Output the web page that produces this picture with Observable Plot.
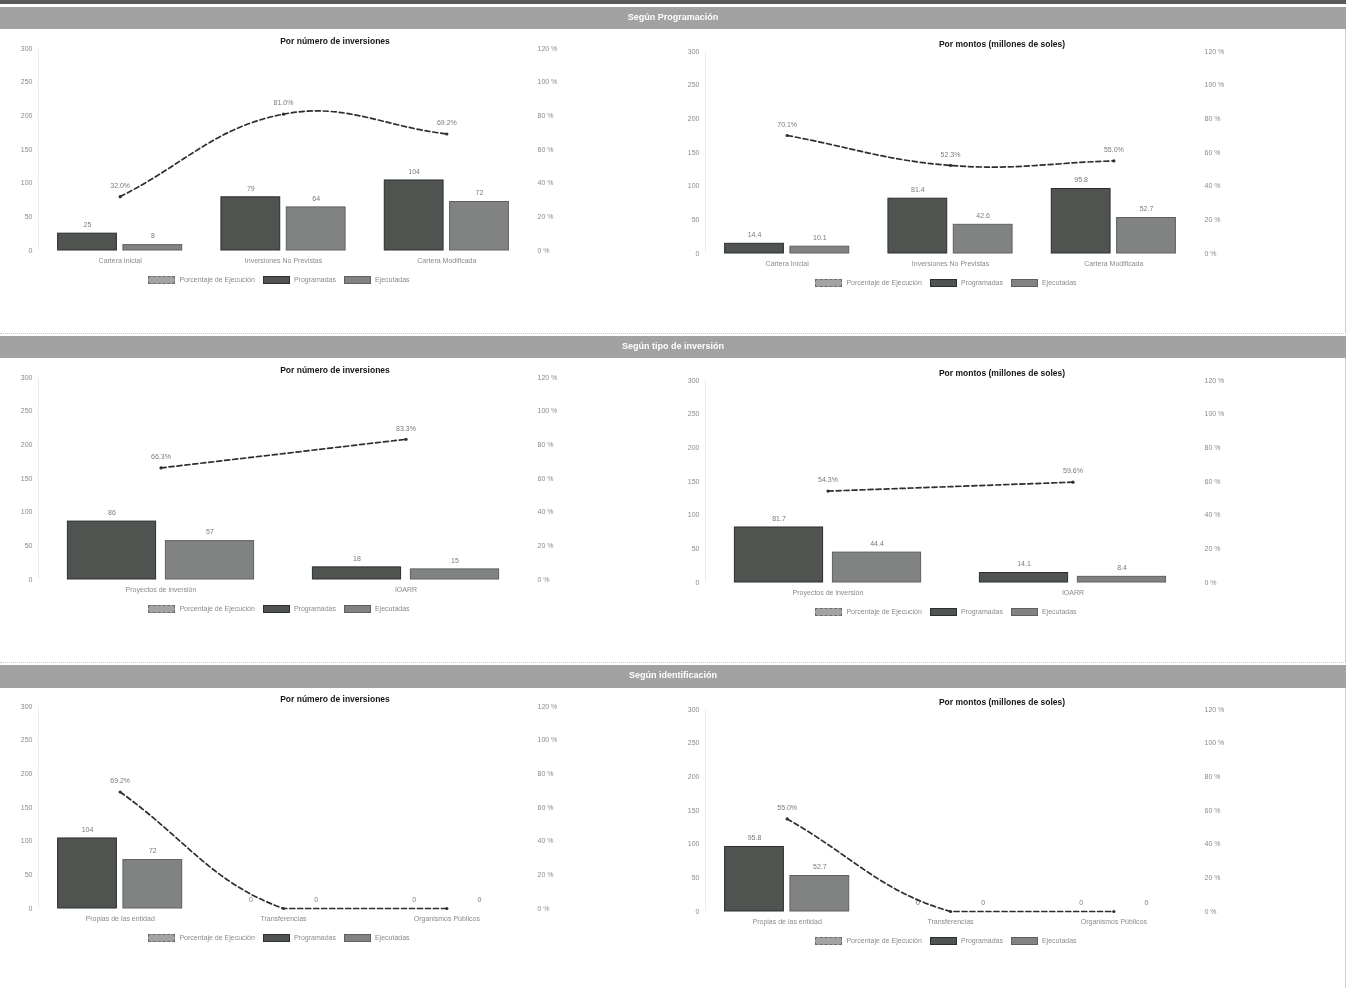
<!DOCTYPE html>
<html>
<head>
<meta charset="utf-8">
<script src="https://cdn.jsdelivr.net/npm/d3@7"></script>
<script src="https://cdn.jsdelivr.net/npm/@observablehq/plot@0.6"></script>
<style>
  html, body { margin: 0; padding: 0; background: #fff; }
  #root { position: relative; width: 1356px; height: 988px; overflow: hidden; font-family: "Liberation Sans", Arial, sans-serif; will-change: transform; }
  .band { position: absolute; left: 0; width: 1346px; background: #a2a2a2; color: #fff; font-weight: bold; font-size: 9px; text-align: center; }
  .box { position: absolute; left: 0; width: 1345px; border-right: 1px solid #cfcfcf; border-bottom: 1px dotted #c8c8c8; }
  .ptitle { position: absolute; width: 670px; text-align: center; font-weight: bold; font-size: 8.5px; line-height: 10px; color: #151515; }
  .legend { position: absolute; width: 670px; display: flex; justify-content: center; align-items: center; font-size: 7px; color: #8a8a8a; line-height: 10px; }
  .legend .sw { display: inline-block; width: 27px; height: 8px; margin-right: 4px; box-sizing: border-box; }
  .legend .item { display: inline-flex; align-items: center; margin-right: 8px; }
  .pnl { position: absolute; will-change: transform; }
</style>
</head>
<body>
<div id="root"></div>
<script>
// ---------- data ----------
const sectionTitles = ["Según Programación", "Según tipo de inversión", "Según identificación"];
const panelTitles = ["Por número de inversiones", "Por montos (millones de soles)"];
const seriesNames = ["Porcentaje de Ejecución", "Programadas", "Ejecutadas"];

const catsProgramacion = ["Cartera Inicial", "Inversiones No Previstas", "Cartera Modificada"];
const progNumProgramacion = [25, 79, 104];
const ejecNumProgramacion = [8, 64, 72];
const pctNumProgramacion = [32.0, 81.0, 69.2];
const progMontoProgramacion = [14.4, 81.4, 95.8];
const ejecMontoProgramacion = [10.1, 42.6, 52.7];
const pctMontoProgramacion = [70.1, 52.3, 55.0];

const catsTipo = ["Proyectos de inversión", "IOARR"];
const progNumTipo = [86, 18];
const ejecNumTipo = [57, 15];
const pctNumTipo = [66.3, 83.3];
const progMontoTipo = [81.7, 14.1];
const ejecMontoTipo = [44.4, 8.4];
const pctMontoTipo = [54.3, 59.6];

const catsIdent = ["Propias de las entidad", "Transferencias", "Organismos Públicos"];
const progNumIdent = [104, 0, 0];
const ejecNumIdent = [72, 0, 0];
const pctNumIdent = [69.2, 0, 0];
const progMontoIdent = [95.8, 0, 0];
const ejecMontoIdent = [52.7, 0, 0];
const pctMontoIdent = [55.0, 0, 0];

const leftTicks = [0, 50, 100, 150, 200, 250, 300];
const pctMax = 120; // right axis max (%)
const leftMax = 300;

// ---------- style ----------
const colProg = "#4f5450", colProgStroke = "#2c2f2c";
const colEjec = "#808381", colEjecStroke = "#5e615f";
const colPct = "#a3a3a3";
const textCol = "#8a8a8a";
const FONT = "'Liberation Sans', Arial, sans-serif";

const W = 670, H = 226, MT = 6, MB = 18, ML = 38, MR = 142;

// spline with tension whose control points are kept inside the plot frame
function cappedSpline(tension, x0, x1, y0, y1) {
  const cap = p => [Math.max(x0, Math.min(x1, p[0])), Math.max(y0, Math.min(y1, p[1]))];
  return function(context) {
    let pts = [];
    return {
      areaStart() {}, areaEnd() {},
      lineStart() { pts = []; },
      point(x, y) { pts.push([+x, +y]); },
      lineEnd() {
        const n = pts.length;
        if (!n) return;
        context.moveTo(pts[0][0], pts[0][1]);
        const ctrl = pts.map((p, i) => {
          const prev = pts[i - 1] || p, next = pts[i + 1] || p;
          const d01 = Math.hypot(p[0] - prev[0], p[1] - prev[1]);
          const d12 = Math.hypot(next[0] - p[0], next[1] - p[1]);
          let s01 = d01 / (d01 + d12), s12 = d12 / (d01 + d12);
          if (!isFinite(s01)) s01 = 0;
          if (!isFinite(s12)) s12 = 0;
          const fa = tension * s01, fb = tension * s12;
          return [
            cap([p[0] - fa * (next[0] - prev[0]), p[1] - fa * (next[1] - prev[1])]),
            cap([p[0] + fb * (next[0] - prev[0]), p[1] + fb * (next[1] - prev[1])])
          ];
        });
        for (let i = 1; i < n; i++) {
          context.bezierCurveTo(ctrl[i - 1][1][0], ctrl[i - 1][1][1], ctrl[i][0][0], ctrl[i][0][1], pts[i][0], pts[i][1]);
        }
      }
    };
  };
}

const root = document.getElementById("root");

function el(tag, cls, css, html) {
  const e = document.createElement(tag);
  if (cls) e.className = cls;
  if (css) Object.assign(e.style, css);
  if (html != null) e.innerHTML = html;
  root.appendChild(e);
  return e;
}

function chart(cats, prog, ejec, pct, decimals) {
  const n = cats.length;
  const rows = cats.map((c, i) => ({i, c, prog: prog[i], ejec: ejec[i], pct: pct[i]}));
  const fmt = v => (decimals && v !== 0) ? v.toFixed(decimals) : String(v);
  const k = leftMax / pctMax;
  return Plot.plot({
    width: W, height: H,
    marginTop: MT, marginBottom: MB, marginLeft: ML, marginRight: MR,
    x: {type: "linear", domain: [-0.5, n - 0.5], axis: null, label: null},
    y: {domain: [0, leftMax], axis: null, label: null},
    style: {fontFamily: FONT, fontSize: "7px", color: textCol, background: "transparent", overflow: "visible"},
    marks: [
      Plot.ruleX([-0.5], {stroke: "#eeeeee"}),
      Plot.axisY({ticks: leftTicks, tickSize: 0, tickPadding: 6, tickFormat: d => String(d), fill: textCol, label: null}),
      Plot.axisY({anchor: "right", ticks: leftTicks, tickSize: 0, tickPadding: 9, tickFormat: d => `${d / k} %`, fill: textCol, textAnchor: "start", label: null}),
      Plot.axisX({ticks: d3.range(n), tickSize: 0, tickPadding: 8, tickFormat: i => cats[i], fill: textCol, label: null}),
      Plot.rect(rows, {x1: d => d.i - 0.38, x2: d => d.i - 0.02, y1: 0, y2: "prog", fill: colProg, stroke: colProgStroke, strokeWidth: 1}),
      Plot.rect(rows, {x1: d => d.i + 0.02, x2: d => d.i + 0.38, y1: 0, y2: "ejec", fill: colEjec, stroke: colEjecStroke, strokeWidth: 1}),
      Plot.text(rows, {x: d => d.i - 0.2, y: "prog", text: d => fmt(d.prog), dy: -9, fill: "#7a7a7a"}),
      Plot.text(rows, {x: d => d.i + 0.2, y: "ejec", text: d => fmt(d.ejec), dy: -9, fill: "#7a7a7a"}),
      Plot.line(rows, {x: "i", y: d => d.pct * k,
        curve: cappedSpline(0.4, ML, W - MR, MT, H - MB),
        stroke: "#2e2e2e", strokeWidth: 1.7, strokeDasharray: "5,3"}),
      Plot.dot(rows, {x: "i", y: d => d.pct * k, r: 1.6, fill: "#2e2e2e", stroke: "none"}),
      Plot.text(rows.filter(d => d.pct > 0), {x: "i", y: d => d.pct * k, text: d => d.pct.toFixed(1) + "%", dy: -11, fill: "#7a7a7a"})
    ]
  });
}

function legend(left, top) {
  const lg = el("div", "legend", {left: (left + 283 - 335) + "px", top: top + "px"});
  const sw = [
    {bg: colPct, border: "1px dashed #6d6d6d"},
    {bg: colProg, border: "1px solid " + colProgStroke},
    {bg: colEjec, border: "1px solid " + colEjecStroke}
  ];
  seriesNames.forEach((name, j) => {
    const it = document.createElement("span");
    it.className = "item";
    const s = document.createElement("span");
    s.className = "sw";
    s.style.background = sw[j].bg;
    s.style.border = sw[j].border;
    it.appendChild(s);
    const t = document.createElement("span");
    t.textContent = name;
    it.appendChild(t);
    lg.appendChild(it);
  });
}

// scanner edge at top
el("div", null, {position: "absolute", left: "0px", top: "0px", width: "1346px", height: "4px", background: "#5a5a5a"});

const sections = [
  {bandTop: 7, bandH: 22, y300: 48, boxBottom: 333,
   left: [catsProgramacion, progNumProgramacion, ejecNumProgramacion, pctNumProgramacion, 0],
   right: [catsProgramacion, progMontoProgramacion, ejecMontoProgramacion, pctMontoProgramacion, 1]},
  {bandTop: 336, bandH: 22, y300: 377, boxBottom: 662,
   left: [catsTipo, progNumTipo, ejecNumTipo, pctNumTipo, 0],
   right: [catsTipo, progMontoTipo, ejecMontoTipo, pctMontoTipo, 1]},
  {bandTop: 665, bandH: 23, y300: 706, boxBottom: 990,
   left: [catsIdent, progNumIdent, ejecNumIdent, pctNumIdent, 0],
   right: [catsIdent, progMontoIdent, ejecMontoIdent, pctMontoIdent, 1]}
];

sections.forEach((s, si) => {
  el("div", "box", {top: (s.bandTop + s.bandH) + "px", height: (s.boxBottom - s.bandTop - s.bandH) + "px"});
  el("div", "band", {top: s.bandTop + "px", height: s.bandH + "px", lineHeight: (s.bandH - 2) + "px"}, sectionTitles[si]);
  [["left", 0, 0], ["right", 667, 3]].forEach(([side, x0, dy]) => {
    const y300 = s.y300 + dy;
    el("div", "ptitle", {left: x0 + "px", top: (y300 - 12) + "px"}, panelTitles[side === "left" ? 0 : 1]);
    const holder = el("div", "pnl", {left: x0 + "px", top: (y300 - MT) + "px"});
    const [c, p, e, pc, dec] = s[side];
    holder.appendChild(chart(c, p, e, pc, dec));
    legend(x0, y300 + 202 + 25);
  });
});
</script>
</body>
</html>
